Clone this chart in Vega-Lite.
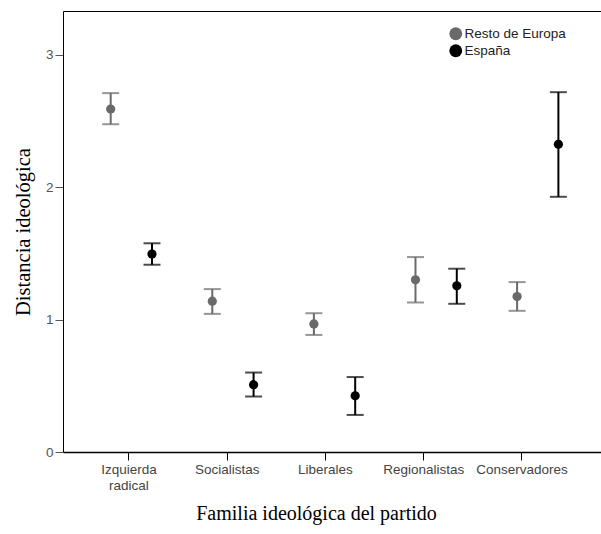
{
  "$schema": "https://vega.github.io/schema/vega-lite/v6.json",
  "width": 538,
  "height": 441,
  "autosize": "none",
  "padding": {"left": 63, "top": 11, "right": 0, "bottom": 82},
  "background": "white",
  "config": {"view": {"stroke": null}, "font": "Liberation Sans"},
  "data": {
    "values": [
      {"familia": "Izquierda radical", "grupo": "Resto de Europa", "media": 2.59, "lo": 2.475, "hi": 2.71},
      {"familia": "Izquierda radical", "grupo": "España", "media": 1.495, "lo": 1.414, "hi": 1.576},
      {"familia": "Socialistas", "grupo": "Resto de Europa", "media": 1.139, "lo": 1.043, "hi": 1.23},
      {"familia": "Socialistas", "grupo": "España", "media": 0.508, "lo": 0.419, "hi": 0.6},
      {"familia": "Liberales", "grupo": "Resto de Europa", "media": 0.967, "lo": 0.884, "hi": 1.048},
      {"familia": "Liberales", "grupo": "España", "media": 0.424, "lo": 0.28, "hi": 0.566},
      {"familia": "Regionalistas", "grupo": "Resto de Europa", "media": 1.3, "lo": 1.129, "hi": 1.472},
      {"familia": "Regionalistas", "grupo": "España", "media": 1.255, "lo": 1.119, "hi": 1.384},
      {"familia": "Conservadores", "grupo": "Resto de Europa", "media": 1.174, "lo": 1.066, "hi": 1.283},
      {"familia": "Conservadores", "grupo": "España", "media": 2.323, "lo": 1.927, "hi": 2.717}
    ]
  },
  "layer": [
    {
      "mark": {"type": "point", "opacity": 0},
      "encoding": {
        "x": {
          "field": "familia", "type": "nominal",
          "sort": ["Izquierda radical", "Socialistas", "Liberales", "Regionalistas", "Conservadores"],
          "scale": {"type": "band", "paddingInner": 0, "paddingOuter": 0.238, "align": 0.36},
          "axis": {
            "orient": "bottom",
            "title": "Familia ideológica del partido",
            "titleFont": "Liberation Serif", "titleFontSize": 20, "titleFontWeight": "normal", "titleColor": "black",
            "titlePadding": 12, "titleX": 253,
            "labelExpr": "datum.label == 'Izquierda radical' ? ['Izquierda', 'radical'] : datum.label",
            "labelAngle": 0, "labelFontSize": 13.5, "labelColor": "#444444", "labelPadding": 2, "labelLineHeight": 16,
            "tickSize": 8, "tickColor": "black", "domainColor": "black", "domainWidth": 1.5, "grid": false
          }
        },
        "y": {
          "field": "media", "type": "quantitative",
          "scale": {"domain": [0, 3.33], "nice": false},
          "axis": {
            "title": "Distancia ideológica",
            "titleFont": "Liberation Serif", "titleFontSize": 20.5, "titleFontWeight": "normal", "titleColor": "black",
            "titlePadding": 12,
            "values": [0, 1, 2, 3], "format": "d", "tickSize": 8, "tickColor": "#555555", "domainColor": "black",
            "labelFontSize": 13.5, "labelColor": "#555555", "labelPadding": 2, "grid": false
          }
        }
      }
    },
    {
      "encoding": {
        "x": {
          "field": "familia", "type": "nominal",
          "sort": ["Izquierda radical", "Socialistas", "Liberales", "Regionalistas", "Conservadores"],
          "scale": {"type": "band", "paddingInner": 0, "paddingOuter": 0.1476, "align": 0.583},
          "axis": {"orient": "top", "labels": false, "ticks": false, "title": null, "domainColor": "black", "grid": false}
        },
        "xOffset": {
          "field": "grupo", "type": "nominal",
          "sort": ["Resto de Europa", "España"],
          "scale": {"type": "point", "range": [30.2, 71.5], "padding": 0}
        },
        "color": {
          "field": "grupo", "type": "nominal",
          "sort": ["Resto de Europa", "España"],
          "scale": {"domain": ["Resto de Europa", "España"], "range": ["#6a6a6a", "#000000"]},
          "legend": {
            "title": null, "orient": "none", "legendX": 386, "legendY": 16,
            "symbolType": "circle", "symbolSize": 165, "symbolStrokeWidth": 0,
            "labelFontSize": 13.5, "labelColor": "#222222", "labelOffset": 2, "rowPadding": 2, "padding": 0
          }
        }
      },
      "layer": [
        {
          "mark": {"type": "point", "filled": true, "opacity": 1, "size": 85, "shape": "circle"},
          "encoding": {
            "y": {"field": "media", "type": "quantitative", "title": "Distancia ideológica"}
          }
        },
        {
          "mark": {"type": "rule", "strokeWidth": 2},
          "encoding": {
            "y": {"field": "lo", "type": "quantitative", "title": "Distancia ideológica"},
            "y2": {"field": "hi"}
          }
        },
        {
          "mark": {"type": "tick", "size": 17, "thickness": 2, "orient": "horizontal"},
          "encoding": {"y": {"field": "lo", "type": "quantitative", "title": "Distancia ideológica"}}
        },
        {
          "mark": {"type": "tick", "size": 17, "thickness": 2, "orient": "horizontal"},
          "encoding": {"y": {"field": "hi", "type": "quantitative", "title": "Distancia ideológica"}}
        }
      ]
    }
  ],
  "resolve": {"scale": {"x": "independent"}, "axis": {"x": "independent"}}
}
